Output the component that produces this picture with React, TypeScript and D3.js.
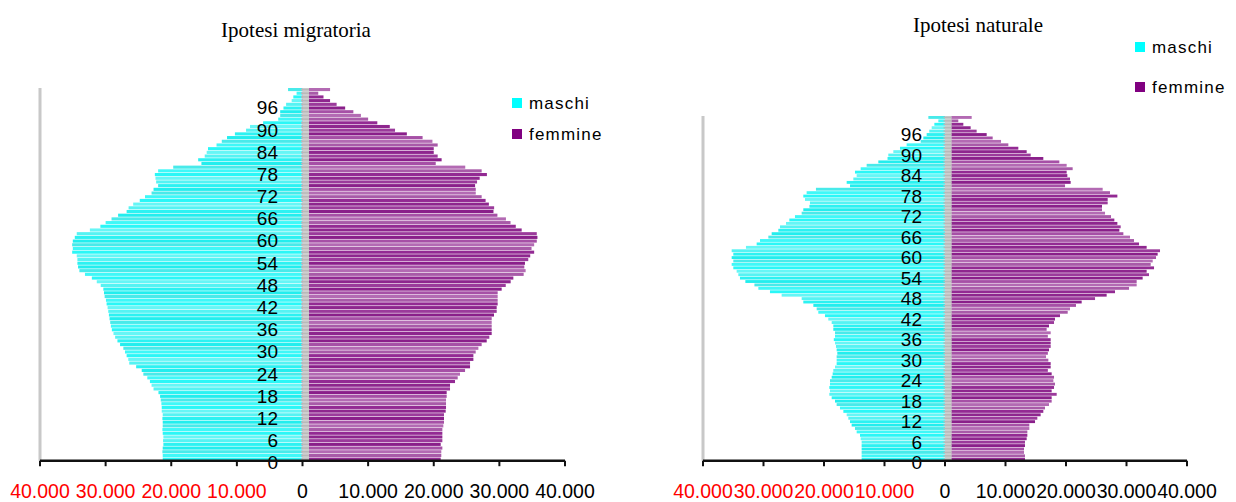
import React from 'react'
import * as d3 from 'd3'

// categories: single ages 0..100
const ages = d3.range(0, 101)
const ageTicks = [0, 6, 12, 18, 24, 30, 36, 42, 48, 54, 60, 66, 72, 78, 84, 90, 96]
const valueTicks = [-40000, -30000, -20000, -10000, 0, 10000, 20000, 30000, 40000]

// Ipotesi migratoria (age 0 first)
const maschiMigratoria = [
    21300, 21300, 21350, 21300, 21200, 21250, 21200, 21300, 21350, 21300,
    21300, 21350, 21300, 21450, 21450, 21500, 21600, 21700, 21950, 22700,
    23000, 23250, 23650, 24250, 24500, 25350, 26400, 26550, 26800, 27050,
    27300, 27800, 28200, 28550, 28800, 29050, 29200, 29300, 29400, 29500,
    29600, 29700, 29850, 29950, 30150, 30250, 30350, 30750, 31350, 32100,
    33150, 34000, 34200, 34300, 34300, 34400, 35100, 35000, 35100, 35000,
    34700, 34400, 32400, 30800, 30000, 29100, 28100, 26800, 26500, 25800,
    24800, 24000, 23000, 22700, 22000, 22300, 22400, 22500, 22000, 19700,
    15400, 15900, 14900, 14600, 14400, 13100, 12300, 11500, 10300, 8600,
    8000, 6000, 3700, 3400, 3400, 2900, 2500, 1650, 1400, 900,
    2200,
]
const femmineMigratoria = [
    21060, 21150, 21150, 21310, 21060, 21310, 21310, 21310, 21310, 21460,
    21560, 21560, 21560, 21820, 21870, 21870, 21870, 21970, 21970, 22480,
    22480, 23240, 23650, 24000, 24770, 25530, 25530, 26040, 26040, 26390,
    26800, 27300, 28070, 28470, 28830, 28830, 28830, 28830, 28830, 29180,
    29590, 29590, 29740, 29740, 29740, 29740, 30350, 30970, 31720, 32130,
    33700, 34000, 33800, 33900, 34400, 34700, 35300, 34900, 35300, 35700,
    35800, 35700, 33400, 32500, 31700, 31000, 29700, 29100, 29200, 28400,
    27900, 27300, 26400, 26400, 26300, 26600, 27000, 28100, 27300, 24800,
    20300, 21200, 20600, 20000, 20000, 20600, 19800, 18300, 15900, 14100,
    13300, 11400, 10000, 8900, 7750, 6500, 5200, 4200, 3200, 2400,
    4200,
]

// Ipotesi naturale (age 0 first)
const maschiNaturale = [
    13780, 13780, 13780, 13780, 13780, 13780, 13940, 14050, 14600, 14880,
    15430, 15700, 15980, 16250, 16800, 17360, 17910, 18180, 18730, 19120,
    19010, 19120, 19010, 19010, 18730, 18570, 18460, 18180, 17910, 17910,
    17910, 17800, 17910, 18020, 18180, 18380, 18180, 18180, 18460, 18460,
    18730, 19290, 19840, 20940, 21210, 21760, 23420, 23690, 27000, 28930,
    30850, 31500, 33000, 33890, 34160, 34440, 34990, 35260, 34990, 35260,
    34990, 35260, 32900, 31130, 30580, 29200, 28650, 27550, 27270, 26280,
    25730, 24800, 23690, 23420, 22410, 22320, 23140, 23420, 22870, 21330,
    15700, 16250, 15150, 14600, 14880, 13940, 12950, 11020, 9500, 9370,
    8540, 7440, 6340, 4020, 3580, 3030, 2600, 2200, 1760, 1100,
    2750,
]
const femmineNaturale = [
    13220, 13220, 13060, 13060, 13220, 13220, 13500, 13610, 13610, 13940,
    13940, 14880, 15260, 15810, 16250, 16530, 17190, 17630, 17630, 18460,
    17630, 18020, 18180, 17910, 18020, 17630, 17000, 17470, 17470, 17080,
    16700, 17000, 17190, 17470, 17470, 17470, 17000, 17470, 16800, 17190,
    18020, 18180, 19010, 20280, 20660, 21650, 22590, 24800, 26720, 28100,
    30420, 31680, 31680, 32670, 33720, 33330, 34550, 34000, 34330, 34880,
    35150, 35540, 33330, 32070, 31240, 30580, 29480, 28820, 29040, 28490,
    27990, 27440, 26450, 25950, 25950, 26890, 26890, 28490, 27270, 26060,
    19840, 20770, 20660, 20220, 20110, 21100, 20110, 18900, 16250, 14160,
    13500, 12120, 10470, 9260, 7880, 6890, 5230, 4240, 3030, 2200,
    4410,
]

const cyanShades = ["#2af7f7", "#55f3f3", "#22eeee", "#3ff8f8", "#66f6f6", "#2cf2f2", "#48eaea"]
const purpleShades = ["#932a93", "#a650a6", "#8e268e", "#b36ab3", "#9b3a9b", "#a85aa8", "#8a1f8a"]

const fmt = d3.formatLocale({ decimal: ",", thousands: ".", grouping: [3], currency: ["", ""] }).format(",d")

interface PanelCfg {
    title: string
    titleX: number
    titleY: number
    maschi: number[]
    femmine: number[]
    left: number
    right: number
    top: number
    bottom: number
    labelDx: number
    legendX: number
    legendY: number
    legendGap: number
}

const SANS = "Arial, 'Liberation Sans', sans-serif"

function Pyramid({ cfg }: { cfg: PanelCfg }) {
    const x = d3.scaleLinear().domain([-40000, 40000]).range([cfg.left, cfg.right])
    const y = d3.scaleBand<number>().domain(ages).range([cfg.bottom, cfg.top]).paddingInner(0.16)
    const x0 = x(0)
    const bw = y.bandwidth()

    return (
        <g>
            <text x={cfg.titleX} y={cfg.titleY} textAnchor="middle"
                style={{ fontFamily: "'Times New Roman', 'Liberation Serif', serif", fontSize: 21 }}>
                {cfg.title}
            </text>

            {/* left border of the plot */}
            <rect x={cfg.left - 1.5} y={cfg.top} width={3} height={cfg.bottom - cfg.top} fill="#c8c8c8" />

            {/* bars */}
            {ages.map((a, i) => (
                <rect key={"m" + a} x={x(-cfg.maschi[i])} y={y(a)} width={x0 - x(-cfg.maschi[i])} height={bw}
                    fill={cyanShades[(i * 3) % cyanShades.length]} />
            ))}
            {ages.map((a, i) => (
                <rect key={"f" + a} x={x0} y={y(a)} width={x(cfg.femmine[i]) - x0} height={bw}
                    fill={purpleShades[(i * 5) % purpleShades.length]} />
            ))}

            {/* category axis with its tick marks */}
            <rect x={x0} y={cfg.top} width={6.5} height={cfg.bottom - cfg.top} fill="#cfcfcf" />
            {ages.map(a => (
                <rect key={"t" + a} x={x0 - 1.5} y={(y(a) as number) + bw / 2 - 0.8} width={8} height={1.6} fill="#b9b9b9" />
            ))}

            {/* age labels */}
            {ageTicks.map(a => (
                <text key={"l" + a} x={x0 + cfg.labelDx} y={(y(a) as number) + bw / 2 + 3.6}
                    textAnchor="end" dominantBaseline="central"
                    style={{ fontFamily: SANS, fontSize: 19 }}>
                    {a}
                </text>
            ))}

            {/* value axis */}
            <line x1={x(-40000)} x2={x(40000)} y1={cfg.bottom} y2={cfg.bottom} stroke="#111" strokeWidth={2.5} />
            {valueTicks.map(t => (
                <line key={"v" + t} x1={x(t)} x2={x(t)} y1={cfg.bottom} y2={cfg.bottom + 5.5} stroke="#111" strokeWidth={2} />
            ))}
            {valueTicks.map(t => (
                <text key={"vl" + t} x={x(t)} y={497.5} textAnchor="middle"
                    fill={t < 0 ? "#ff0000" : "#000"}
                    style={{ fontFamily: SANS, fontSize: 19.5 }}>
                    {t === 0 ? "0" : fmt(Math.abs(t))}
                </text>
            ))}

            {/* legend */}
            <rect x={cfg.legendX} y={cfg.legendY - 5} width={10} height={10} fill="#00ffff" />
            <text x={cfg.legendX + 17} y={cfg.legendY + 6} style={{ fontFamily: SANS, fontSize: 17, letterSpacing: 1.2 }}>maschi</text>
            <rect x={cfg.legendX} y={cfg.legendY + cfg.legendGap - 5} width={10} height={10} fill="#800080" />
            <text x={cfg.legendX + 17} y={cfg.legendY + cfg.legendGap + 6} style={{ fontFamily: SANS, fontSize: 17, letterSpacing: 1.2 }}>femmine</text>
        </g>
    )
}

const migratoria: PanelCfg = {
    title: "Ipotesi migratoria", titleX: 296, titleY: 37,
    maschi: maschiMigratoria, femmine: femmineMigratoria,
    left: 40, right: 565, top: 88, bottom: 460.7, labelDx: -24.5,
    legendX: 512, legendY: 103, legendGap: 31,
}

const naturale: PanelCfg = {
    title: "Ipotesi naturale", titleX: 978, titleY: 32,
    maschi: maschiNaturale, femmine: femmineNaturale,
    left: 703, right: 1187, top: 116, bottom: 460.7, labelDx: -23,
    legendX: 1135, legendY: 47, legendGap: 40,
}

export default function App() {
    return (
        <div style={{ position: "absolute", left: 0, top: 0 }}>
            <svg width={1236} height={502} viewBox="0 0 1236 502" style={{ display: "block", background: "#fff" }}>
                <Pyramid cfg={migratoria} />
                <Pyramid cfg={naturale} />
            </svg>
        </div>
    )
}
